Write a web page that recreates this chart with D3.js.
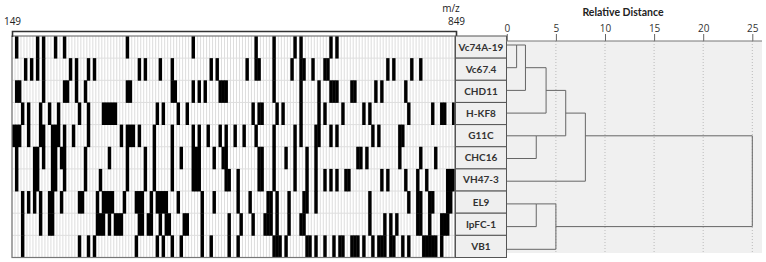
<!DOCTYPE html>
<html>
<head>
<meta charset="utf-8">
<script src="https://cdn.jsdelivr.net/npm/d3@7"></script>
<style>
  html, body { margin: 0; padding: 0; background: #fff; }
  svg { display: block; }
</style>
</head>
<body>
<div id="chart"></div>
<script>
// strain labels, top to bottom
const labels = ['Vc74A-19', 'Vc67.4', 'CHD11', 'H-KF8', 'G11C', 'CHC16', 'VH47-3', 'EL9', 'IpFC-1', 'VB1']

// m/z range and number of bins in the band matrix
const mzRange = [149, 849]
const nBins = 148

// band bins present per strain (bin index along m/z)
const bandsVc74A19 = [1, 8, 10, 14, 17, 38, 60, 81, 87, 94, 96, 106, 108]
const bandsVc674 = [4, 6, 8, 10, 19, 21, 25, 27, 42, 44, 49, 53, 66, 68, 78, 81, 82, 87, 93, 96, 97, 100, 104, 105, 125, 127, 133, 136]
const bandsCHD11 = [1, 2, 10, 17, 18, 21, 24, 38, 39, 53, 54, 60, 62, 64, 69, 70, 71, 87, 96, 102, 106, 107, 108, 113, 114, 121, 123, 131]
const bandsHKF8 = [3, 5, 9, 12, 15, 22, 25, 30, 31, 32, 33, 34, 48, 50, 55, 58, 80, 82, 83, 88, 90, 96, 102, 104, 110, 117, 119, 132, 140, 143, 144, 147]
const bandsG11C = [0, 1, 2, 5, 9, 10, 13, 14, 15, 17, 20, 25, 36, 38, 39, 40, 42, 47, 53, 60, 62, 65, 69, 71, 74, 77, 81, 87, 94, 96, 101, 102, 106, 108, 120, 122, 129, 130]
const bandsCHC16 = [1, 7, 8, 10, 13, 14, 16, 17, 24, 32, 38, 44, 47, 53, 56, 60, 61, 62, 67, 70, 71, 82, 83, 87, 91, 94, 98, 101, 115, 116, 118, 129, 136, 141]
const bandsVH473 = [1, 7, 8, 13, 14, 17, 24, 29, 38, 44, 47, 53, 60, 61, 62, 71, 72, 75, 82, 83, 87, 94, 98, 101, 104, 106, 108, 111, 112, 123, 125, 131, 135, 138, 145, 146, 147]
const bandsEL9 = [3, 5, 7, 9, 12, 13, 16, 22, 23, 28, 30, 31, 32, 33, 37, 41, 42, 43, 46, 48, 49, 50, 51, 55, 63, 67, 75, 79, 85, 86, 88, 92, 97, 98, 101, 119, 132, 135, 136, 139, 140, 145, 146]
const bandsIpFC1 = [3, 9, 12, 13, 28, 29, 30, 32, 34, 35, 36, 42, 43, 45, 46, 49, 51, 52, 57, 58, 63, 72, 76, 80, 84, 85, 86, 88, 92, 96, 97, 119, 124, 126, 128, 135, 136, 139, 143, 144, 145]
const bandsVB1 = [3, 22, 25, 27, 41, 48, 50, 53, 56, 63, 66, 72, 75, 87, 88, 89, 91, 98, 99, 101, 104, 107, 109, 110, 113, 114, 115, 117, 120, 122, 123, 124, 126, 127, 130, 132, 137, 138, 139, 140, 141, 143]

const bandRows = [bandsVc74A19, bandsVc674, bandsCHD11, bandsHKF8, bandsG11C,
  bandsCHC16, bandsVH473, bandsEL9, bandsIpFC1, bandsVB1]

// dendrogram merges: nodes 0-9 are leaves, merge i creates node 10 + i
const linkA = [0, 10, 11, 4, 12, 14, 7, 16, 15]
const linkB = [1, 2, 3, 5, 13, 6, 8, 9, 17]
const linkDist = [1.0, 1.9, 4.0, 3.0, 6.0, 8.0, 3.0, 5.0, 25]

const distTicks = [0, 5, 10, 15, 20, 25]

const width = 766
const height = 262

const svg = d3.select('#chart').append('svg')
  .attr('width', width)
  .attr('height', height)

const row = d3.scaleBand()
  .domain(d3.range(labels.length))
  .range([36, 257.5])

const bin = d3.scaleBand()
  .domain(d3.range(nBins))
  .range([12, 455])

const mz = d3.scaleLinear()
  .domain(mzRange)
  .range([12, 456])

// --- band matrix ---
const matrix = svg.append('g')

matrix.append('g')
  .selectAll('line')
  .data(d3.range(nBins + 1))
  .join('line')
  .attr('x1', d => d === nBins ? 455 : bin(d))
  .attr('x2', d => d === nBins ? 455 : bin(d))
  .attr('y1', row.range()[0])
  .attr('y2', row.range()[1])
  .attr('stroke', '#d4d4d4')
  .attr('stroke-width', 0.8)

matrix.append('g')
  .selectAll('line')
  .data(d3.range(1, labels.length))
  .join('line')
  .attr('x1', 12)
  .attr('x2', 455)
  .attr('y1', d => row(d))
  .attr('y2', d => row(d))
  .attr('stroke', '#dedede')

const cells = bandRows.flatMap((bins, r) => bins.map(b => ({ r, b })))

matrix.append('g')
  .selectAll('rect')
  .data(cells)
  .join('rect')
  .attr('x', d => bin(d.b))
  .attr('y', d => row(d.r))
  .attr('width', bin.bandwidth() + 0.4)
  .attr('height', row.bandwidth() + 0.4)
  .attr('fill', '#000')

matrix.append('rect')
  .attr('x', 12)
  .attr('y', 36)
  .attr('width', 443)
  .attr('height', 221.5)
  .attr('fill', 'none')
  .attr('stroke', '#777')
  .attr('stroke-width', 1.2)

// m/z axis on top
const mzAxis = svg.append('g')
  .attr('transform', 'translate(0,31)')
  .call(d3.axisTop(mz).tickValues(mzRange).tickSizeInner(0).tickSizeOuter(-6).tickPadding(6))

mzAxis.select('.domain')
  .attr('stroke', '#333')
  .attr('stroke-width', 1.6)
mzAxis.selectAll('text')
  .attr('font-family', 'Open Sans, sans-serif')
  .attr('font-size', 10)
  .attr('fill', '#222')

svg.append('text')
  .attr('x', mz(849) - 5)
  .attr('y', 12)
  .attr('text-anchor', 'middle')
  .attr('font-family', 'Open Sans, sans-serif')
  .attr('font-size', 10)
  .attr('fill', '#222')
  .text('m/z')

// --- label boxes ---
const boxes = svg.append('g')

boxes.selectAll('rect')
  .data(labels)
  .join('rect')
  .attr('x', 455.5)
  .attr('y', (d, i) => row(i))
  .attr('width', 51)
  .attr('height', row.bandwidth())
  .attr('fill', '#efefef')
  .attr('stroke', '#555')
  .attr('stroke-width', 1)

boxes.selectAll('text')
  .data(labels)
  .join('text')
  .attr('x', 481)
  .attr('y', (d, i) => row(i) + row.bandwidth() / 2 + 3.5)
  .attr('text-anchor', 'middle')
  .attr('font-family', 'Lato, sans-serif')
  .attr('font-weight', 'bold')
  .attr('font-size', 10)
  .attr('fill', '#333')
  .text(d => d)

// --- dendrogram ---
const dist = d3.scaleLinear()
  .domain([0, 25])
  .range([506.8, 752.3])

const leafY = d3.scalePoint()
  .domain(d3.range(labels.length))
  .range([45, 249.3])

svg.append('rect')
  .attr('x', 507)
  .attr('y', 41)
  .attr('width', 255)
  .attr('height', 212)
  .attr('fill', '#f0f0f0')

svg.append('g')
  .selectAll('line')
  .data(distTicks.slice(1))
  .join('line')
  .attr('x1', d => dist(d))
  .attr('x2', d => dist(d))
  .attr('y1', 41)
  .attr('y2', 253)
  .attr('stroke', '#bbb')
  .attr('stroke-dasharray', '1,2')

const distAxis = svg.append('g')
  .attr('transform', 'translate(0,41)')
  .call(d3.axisTop(dist).tickValues(distTicks).tickSizeOuter(0).tickSize(7).tickPadding(2))

distAxis.select('.domain').remove()
distAxis.selectAll('line').attr('stroke', '#666')
distAxis.selectAll('text')
  .attr('font-family', 'Open Sans, sans-serif')
  .attr('font-size', 10)
  .attr('fill', '#333')

svg.append('line')
  .attr('x1', 506)
  .attr('x2', 762)
  .attr('y1', 41)
  .attr('y2', 41)
  .attr('stroke', '#777')

svg.append('text')
  .attr('x', 623)
  .attr('y', 16)
  .attr('text-anchor', 'middle')
  .attr('font-family', 'Lato, sans-serif')
  .attr('font-weight', 'bold')
  .attr('font-size', 10.5)
  .attr('fill', '#222')
  .text('Relative Distance')

// node positions: leaves at their row, merged nodes at floor of mid row
const nodeRow = d3.range(labels.length)
const nodeDist = labels.map(() => 0)
linkA.forEach((a, i) => {
  nodeRow.push(Math.floor((nodeRow[a] + nodeRow[linkB[i]]) / 2))
  nodeDist.push(linkDist[i])
})

const segs = []
linkA.forEach((a, i) => {
  const b = linkB[i]
  const d = linkDist[i]
  segs.push([dist(nodeDist[a]), leafY(nodeRow[a]), dist(d), leafY(nodeRow[a])])
  segs.push([dist(nodeDist[b]), leafY(nodeRow[b]), dist(d), leafY(nodeRow[b])])
  segs.push([dist(d), leafY(nodeRow[a]), dist(d), leafY(nodeRow[b])])
})

svg.append('g')
  .selectAll('line')
  .data(segs)
  .join('line')
  .attr('x1', d => d[0])
  .attr('y1', d => d[1])
  .attr('x2', d => d[2])
  .attr('y2', d => d[3])
  .attr('stroke', '#666')
  .attr('stroke-width', 1)
</script>
</body>
</html>
